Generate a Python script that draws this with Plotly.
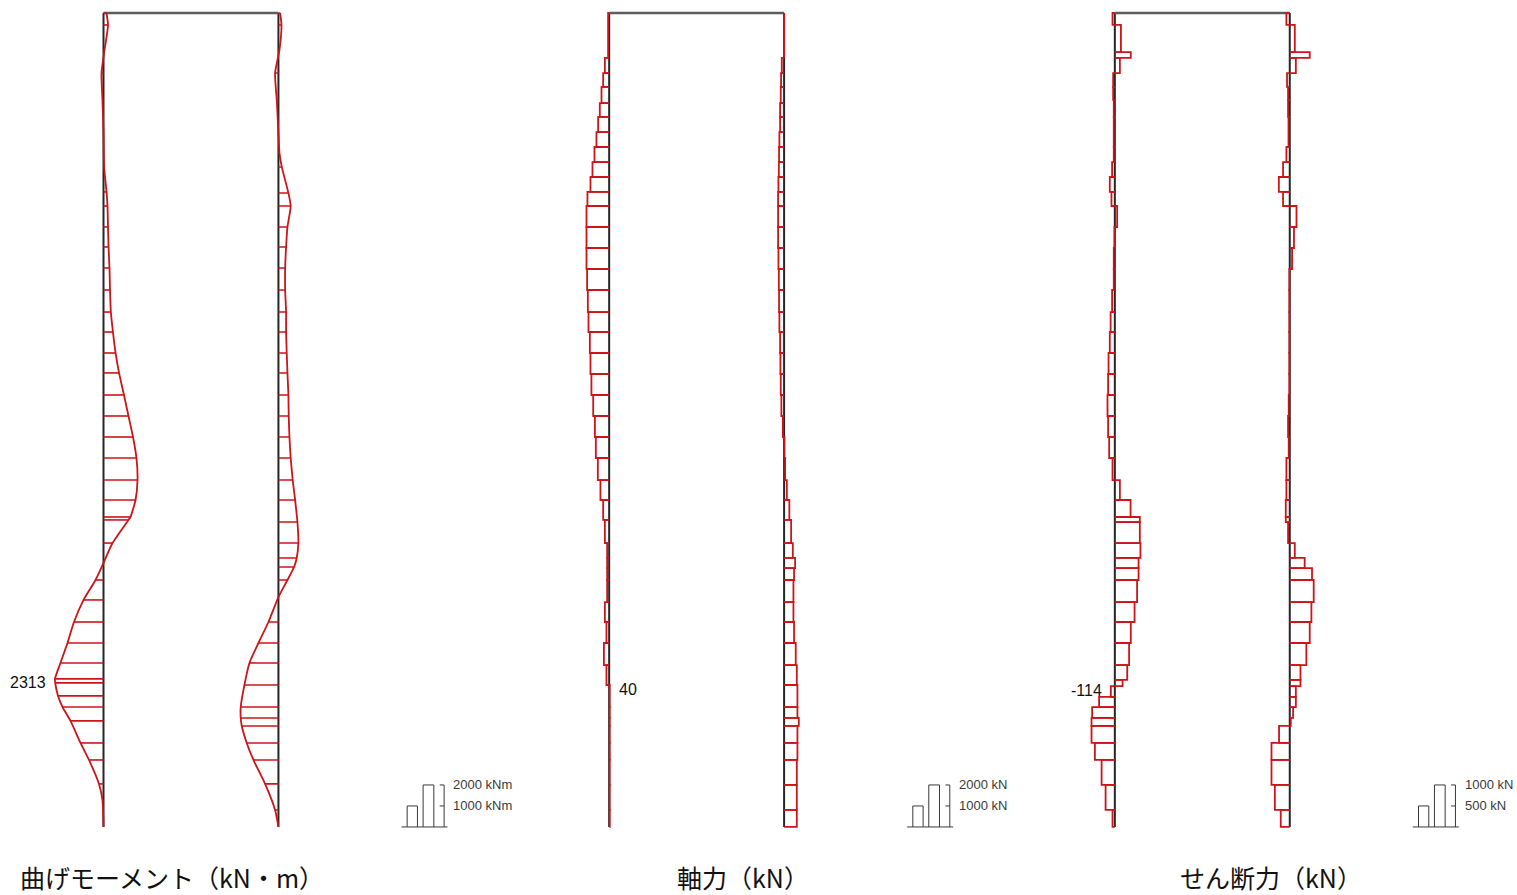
import plotly.graph_objects as go

# ---------------------------------------------------------------- data
# bending moment (kN·m): sample depths (m) and values, left / right member
MOMENT_DEPTH_L = [0.0, 0.57, 1.76, 2.86, 4.14, 5.71, 7.33, 8.52, 9.19, 10.19,
                  11.14, 12.14, 13.19, 14.24, 15.19, 16.19, 17.14, 18.19, 19.19, 20.19,
                  21.19, 22.24, 23.19, 24.0, 24.14, 25.24, 26.19, 27.0, 27.95, 29.0,
                  30.0, 30.95, 31.71, 31.9, 32.52, 33.05, 33.71, 34.76, 35.57, 36.71,
                  37.48, 38.76]
MOMENT_L = [140, 215, 50, -95, -50, 0, 30, 145, 190, 215,
            240, 285, 310, 350, 450, 575, 740, 975, 1190, 1405,
            1570, 1620, 1525, 1285, 1190, 430, 0, -380, -950, -1405,
            -1715, -2050, -2313, -2300, -2165, -1950, -1570, -1095, -690, -215,
            -50, 0]
MOMENT_DEPTH_R = [0.0, 0.57, 1.76, 2.86, 4.14, 5.71, 6.67, 7.33, 8.57, 9.19,
                  10.19, 11.14, 12.14, 13.19, 14.24, 15.19, 16.19, 17.14, 18.19, 19.19,
                  20.19, 21.19, 22.24, 23.19, 24.24, 25.24, 25.95, 26.38, 27.0, 27.81,
                  29.0, 30.0, 30.95, 32.0, 33.05, 33.57, 33.95, 34.76, 35.57, 36.71,
                  37.95, 38.76]
MOMENT_R = [80, 145, 50, -160, -80, 0, 50, 160, 475, 585,
            430, 365, 320, 320, 365, 365, 395, 430, 475, 490,
            525, 585, 680, 795, 905, 950, 870, 745, 430, 0,
            -475, -950, -1380, -1620, -1795, -1795, -1745, -1510, -1190, -635,
            -160, 0]

# axial force (kN): element boundary depths (m), element values
AXIAL_DEPTH = [0.0, 2.14, 2.86, 3.52, 4.29, 4.95, 5.67, 6.38, 7.10, 7.81,
               8.52, 9.19, 10.19, 11.19, 12.19, 13.19, 14.24, 15.19, 16.19, 17.19,
               18.19, 19.19, 20.19, 21.19, 22.24, 23.19, 24.14, 25.24, 25.95, 26.43,
               27.0, 28.05, 29.0, 30.0, 31.05, 32.0, 33.05, 33.57, 33.95, 34.76,
               35.57, 36.76, 37.95, 38.76]
AXIAL_L = [-50, -205, -285, -365, -445, -525, -605, -700, -795, -890,
           -1035, -1080, -1080, -1080, -1050, -1015, -985, -920, -890, -845,
           -760, -680, -635, -540, -415, -285, -205, -95, -95, -95,
           -95, -205, -130, -250, -130, 25, 25, 25, 25, 25,
           25, 25, 25]
AXIAL_R = [0, -110, -145, -160, -190, -190, -225, -240, -250, -270,
           -285, -285, -285, -270, -250, -240, -225, -190, -175, -160,
           -130, -60, 15, 50, 130, 250, 335, 415, 525, 475,
           445, 445, 475, 555, 605, 635, 635, 700, 635, 635,
           605, 605, 605]

# shear force (kN): element boundary depths (m), element values
SHEAR_DEPTH = [0.0, 0.57, 1.86, 2.14, 2.86, 3.52, 4.14, 4.95, 6.38, 7.10,
               7.81, 8.52, 9.19, 10.19, 11.19, 12.19, 13.19, 14.24, 15.19, 16.19,
               17.19, 18.19, 19.19, 20.19, 21.19, 22.24, 23.19, 24.0, 24.24, 25.24,
               25.95, 26.43, 27.0, 28.05, 29.0, 30.0, 31.05, 31.76, 32.05, 32.57,
               33.05, 33.57, 33.95, 34.76, 35.57, 36.76, 37.95, 38.76]
SHEAR_L = [-55, 145, 380, 120, -40, -40, -25, -25, -25, -65,
           -120, -80, 55, -10, -25, -25, -65, -100, -120, -150,
           -160, -175, -160, -135, -55, 120, 375, 595, 595, 610,
           565, 565, 530, 470, 380, 340, 295, 185, -95, -375,
           -540, -555, -555, -475, -315, -220, -55]
SHEAR_R = [-80, 120, 475, 145, -65, -40, -40, -30, -80, -160,
           -260, -160, 160, 100, 55, -10, -10, -10, -10, -10,
           -10, -25, -40, -25, -80, -80, -95, -95, -40, 120,
           355, 530, 570, 515, 475, 395, 255, 255, 145, 145,
           80, 25, -255, -435, -435, -355, -215]

TITLES = ["曲げモーメント（kN・m）", "軸力（kN）", "せん断力（kN）"]
SCALE_VALUES = [[1000, 2000], [1000, 2000], [500, 1000]]
SCALE_LABELS = [["1000 kNm", "2000 kNm"], ["1000 kN", "2000 kN"], ["500 kN", "1000 kN"]]
PEAK_LABELS = ["2313", "40", "-114"]

# ---------------------------------------------------------------- style / geometry
W, H = 1517, 895
PX_PER_M = 21.0
TOP_PX = 13.0
SPAN = 8.33                    # distance between the two members (m)
DEPTH = 38.76                  # member length (m)
MEMBER_OFFSET_PX = 103.5       # left member from panel left edge
DIAGRAM_UNIT = [1000.0, 1000.0, 500.0]   # value drawn per metre
RED = "#cc1419"
MEMBER_COLOR = "#262626"
BEAM_COLOR = "#5c5c5c"
LEGEND_COLOR = "#3a3a3a"
TITLE_LEFT_PX = [18, 675, 1178]
TITLE_CENTER_PX = 877

panel_w = W / 3.0
x_lo = -MEMBER_OFFSET_PX / PX_PER_M
x_hi = (panel_w - MEMBER_OFFSET_PX) / PX_PER_M

fig = go.Figure()


def xa(k):
    return "x" if k == 0 else f"x{k + 1}"


def add_members(k):
    fig.add_trace(go.Scatter(x=[0, 0, None, SPAN, SPAN], y=[0, DEPTH, None, 0, DEPTH],
                             mode="lines", line=dict(color=MEMBER_COLOR, width=2),
                             xaxis=xa(k), yaxis="y", hoverinfo="skip"))
    fig.add_trace(go.Scatter(x=[0, SPAN], y=[0, 0], mode="lines",
                             line=dict(color=BEAM_COLOR, width=2.5),
                             xaxis=xa(k), yaxis="y", hoverinfo="skip"))


def add_curve(k, depths, values, base):
    unit = DIAGRAM_UNIT[k]
    xs = [base + v / unit for v in values]
    fig.add_trace(go.Scatter(x=xs, y=depths, mode="lines",
                             line=dict(color=RED, width=1.8, shape="spline", smoothing=0.6),
                             xaxis=xa(k), yaxis="y", hoverinfo="skip"))
    hx, hy = [], []
    for d, v in zip(depths, values):
        hx += [base, base + v / unit, None]
        hy += [d, d, None]
    fig.add_trace(go.Scatter(x=hx, y=hy, mode="lines", line=dict(color=RED, width=1.6),
                             xaxis=xa(k), yaxis="y", hoverinfo="skip"))


def add_blocks(k, bounds, values, base):
    unit = DIAGRAM_UNIT[k]
    bx, by = [], []
    for i, v in enumerate(values):
        t, b = bounds[i], bounds[i + 1]
        e = base + v / unit
        bx += [base, e, e, base, None]
        by += [t, t, b, b, None]
    fig.add_trace(go.Scatter(x=bx, y=by, mode="lines", line=dict(color=RED, width=1.8),
                             xaxis=xa(k), yaxis="y", hoverinfo="skip"))


def add_scale(k):
    unit = DIAGRAM_UNIT[k]
    vals = SCALE_VALUES[k]
    hs = [v / unit for v in vals]
    lx, ly = [14.19, 16.38, None], [DEPTH, DEPTH, None]
    bars = [(14.46, 14.95), (15.22, 15.73)]
    for (x0, x1), h in zip(bars, hs):
        lx += [x0, x0, x1, x1, None]
        ly += [DEPTH, DEPTH - h, DEPTH - h, DEPTH, None]
    lx += [16.22, 16.22, None]
    ly += [DEPTH, DEPTH - max(hs), None]
    for h in hs:
        lx += [16.01, 16.22, None]
        ly += [DEPTH - h, DEPTH - h, None]
    fig.add_trace(go.Scatter(x=lx, y=ly, mode="lines", line=dict(color=LEGEND_COLOR, width=1),
                             xaxis=xa(k), yaxis="y", hoverinfo="skip"))
    for h, lab in zip(hs, SCALE_LABELS[k]):
        fig.add_annotation(x=16.57, y=DEPTH - h, xref=xa(k), yref="y", text=lab,
                           showarrow=False, xanchor="left", yanchor="middle",
                           font=dict(family="Arial, Liberation Sans", size=13, color=LEGEND_COLOR))


for k in range(3):
    add_members(k)

add_curve(0, MOMENT_DEPTH_L, MOMENT_L, 0.0)
add_curve(0, MOMENT_DEPTH_R, MOMENT_R, SPAN)
add_blocks(1, AXIAL_DEPTH, AXIAL_L, 0.0)
add_blocks(1, AXIAL_DEPTH, AXIAL_R, SPAN)
add_blocks(2, SHEAR_DEPTH, SHEAR_L, 0.0)
add_blocks(2, SHEAR_DEPTH, SHEAR_R, SPAN)

for k in range(3):
    add_scale(k)

# peak value labels
label_font = dict(family="Arial, Liberation Sans", size=16, color="#111111")
i_m = MOMENT_L.index(min(MOMENT_L))
fig.add_annotation(x=MOMENT_L[i_m] / DIAGRAM_UNIT[0], y=MOMENT_DEPTH_L[i_m], xref="x", yref="y",
                   text=PEAK_LABELS[0], showarrow=False, xanchor="right", yanchor="middle",
                   xshift=-7, yshift=-4, font=label_font)
fig.add_annotation(x=0, y=AXIAL_DEPTH[35], xref="x2", yref="y",
                   text=PEAK_LABELS[1], showarrow=False, xanchor="left", yanchor="middle",
                   xshift=8, yshift=-4, font=label_font)
fig.add_annotation(x=0, y=SHEAR_DEPTH[38], xref="x3", yref="y",
                   text=PEAK_LABELS[2], showarrow=False, xanchor="right", yanchor="middle",
                   xshift=-11, yshift=-4, font=label_font)

# titles
for k, t in enumerate(TITLES):
    fig.add_annotation(x=TITLE_LEFT_PX[k] / W, y=1 - TITLE_CENTER_PX / H, xref="paper", yref="paper",
                       text=t, showarrow=False, xanchor="left", yanchor="middle",
                       font=dict(family="Noto Sans CJK JP", size=25, color="#111111"))

axis_common = dict(visible=False, showgrid=False, zeroline=False, fixedrange=True)
layout = dict(
    width=W, height=H, autosize=False,
    margin=dict(l=0, r=0, t=0, b=0, pad=0),
    paper_bgcolor="white", plot_bgcolor="white",
    showlegend=False,
    yaxis=dict(range=[(H - TOP_PX) / PX_PER_M, -TOP_PX / PX_PER_M], domain=[0, 1], anchor="x",
               **axis_common),
)
for k in range(3):
    key = "xaxis" if k == 0 else f"xaxis{k + 1}"
    layout[key] = dict(range=[x_lo, x_hi], domain=[k / 3, (k + 1) / 3], anchor="y", **axis_common)
fig.update_layout(**layout)

fig.write_html("out.html", config={"displayModeBar": False},
               post_script="document.body.style.margin='0px';document.body.style.overflow='hidden';")
